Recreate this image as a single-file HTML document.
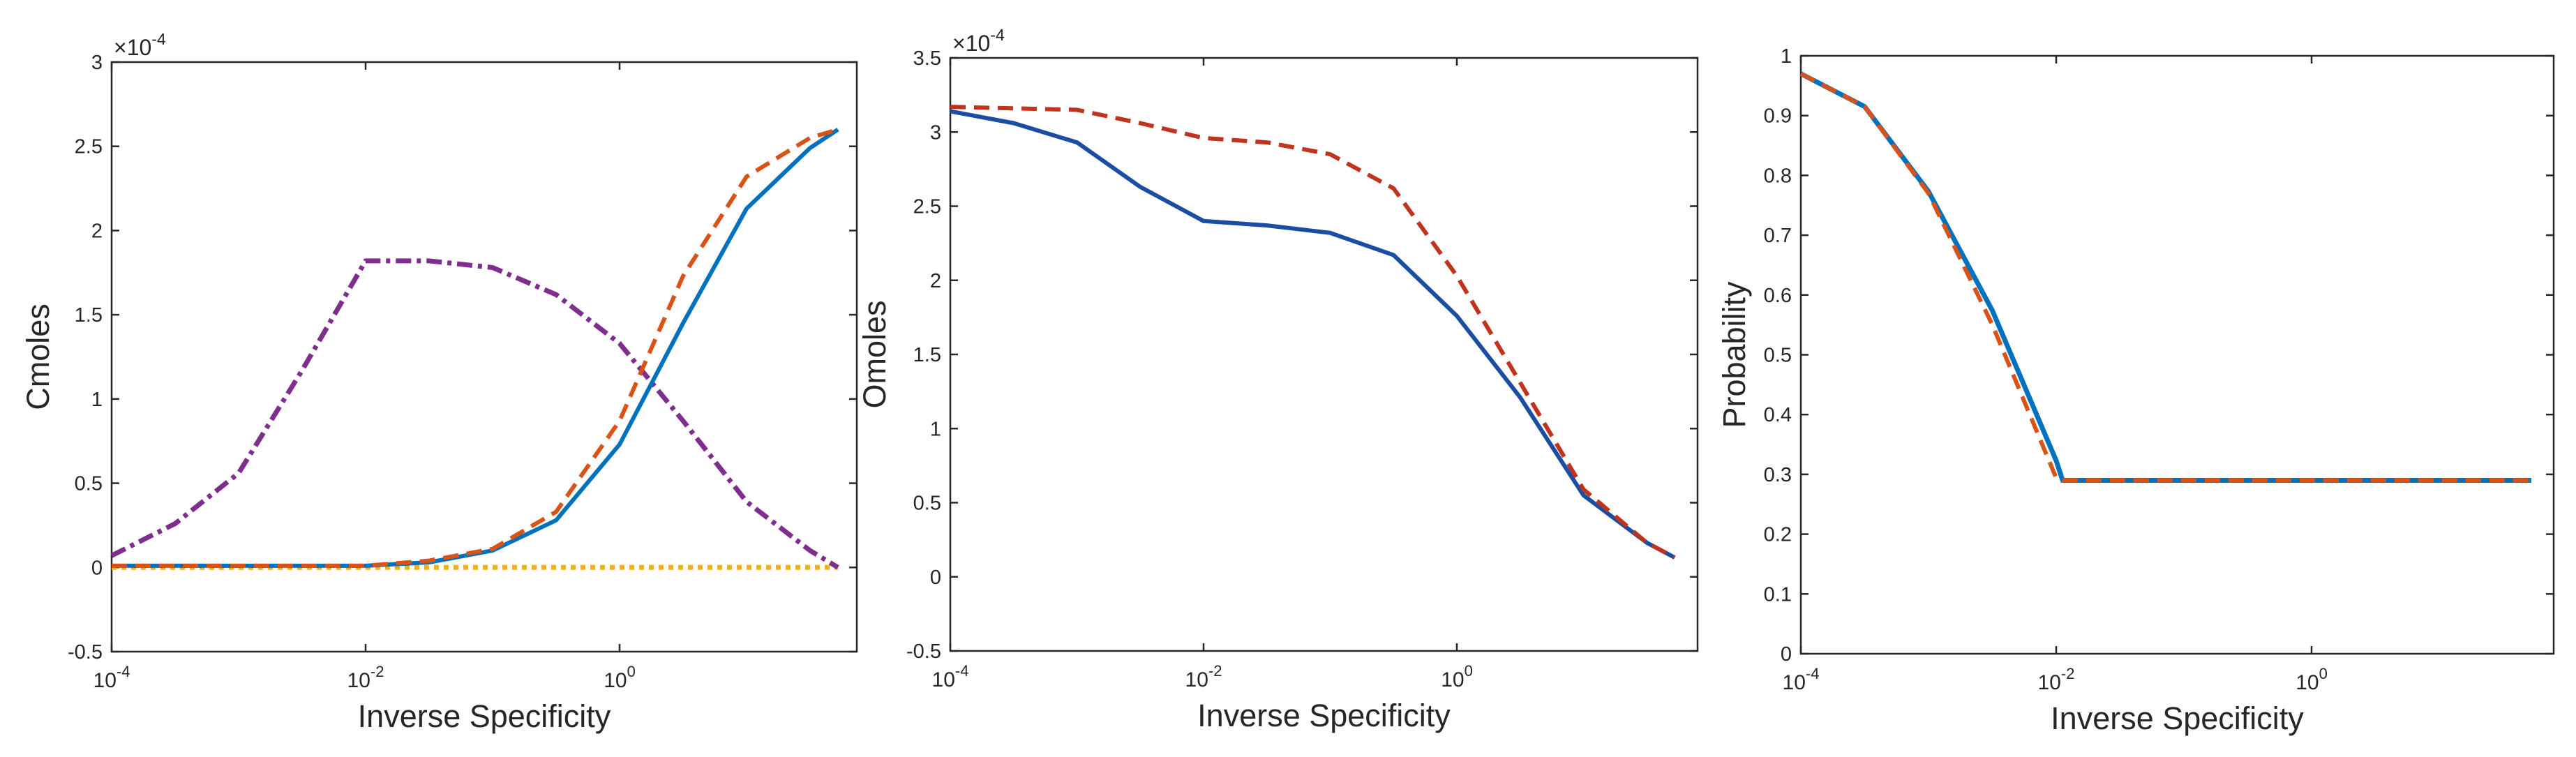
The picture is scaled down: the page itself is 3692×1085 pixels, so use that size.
<!DOCTYPE html>
<html><head><meta charset="utf-8"><style>
html,body{margin:0;padding:0;background:#fff;overflow:hidden;}
svg{display:block;font-family:"Liberation Sans",Arial,sans-serif;}
</style></head><body>
<svg id="fig" width="3692" height="1085" viewBox="0 0 3692 1085" xmlns="http://www.w3.org/2000/svg"></svg>
<script>
// Shared x grid (log10 of inverse specificity)
const logX = [-4,-3.5,-3,-2.5,-2,-1.5,-1,-0.5,0,0.5,1,1.5,1.72];
// Panel 1 (Cmoles, x1e-4)
const p1Purple = [0.07,0.26,0.56,1.17,1.82,1.82,1.78,1.62,1.33,0.87,0.39,0.10,0.0];
const p1Blue   = [0.01,0.01,0.01,0.01,0.01,0.03,0.10,0.28,0.73,1.45,2.13,2.49,2.6];
const p1Orange = [0.01,0.01,0.01,0.01,0.01,0.04,0.11,0.33,0.87,1.73,2.32,2.55,2.6];
const p1Yellow = [0,0,0,0,0,0,0,0,0,0,0,0,0];
// Panel 2 (Omoles, x1e-4)
const p2Blue = [3.14,3.06,2.93,2.63,2.40,2.37,2.32,2.17,1.76,1.21,0.55,0.23,0.13];
const p2Red  = [3.17,3.16,3.15,3.06,2.96,2.93,2.85,2.62,2.03,1.31,0.59,0.23,0.13];
// Panel 3 (Probability)
const p3X = [-4,-3.5,-3,-2.5,-2,-1.95,-1.5,-1,0,1,1.72];
const p3Blue   = [0.97,0.915,0.773,0.574,0.323,0.29,0.29,0.29,0.29,0.29,0.29];
const p3Orange = [0.97,0.915,0.77,0.55,0.294,0.29,0.29,0.29,0.29,0.29,0.29];
const yTicks1 = [-0.5,0,0.5,1,1.5,2,2.5,3];
const yTicks2 = [-0.5,0,0.5,1,1.5,2,2.5,3,3.5];
const yTicks3 = [0,0.1,0.2,0.3,0.4,0.5,0.6,0.7,0.8,0.9,1];
const xTicks = [-4,-2,0];

const NS="http://www.w3.org/2000/svg";
const svg=document.getElementById('fig');
function mk(tag,attrs,parent){const e=document.createElementNS(NS,tag);for(const k in attrs)e.setAttribute(k,attrs[k]);(parent||svg).appendChild(e);return e;}

function panel(id,L,R,T,B,xmin,xmax,ymin,ymax,yT,ylabel,exp,yOff){
  const g=mk('g',{});
  
  
  const sx=v=>L+(v-xmin)/(xmax-xmin)*(R-L);
  const sy=v=>B-(v-ymin)/(ymax-ymin)*(B-T);
  const fr=mk('rect',{x:L,y:T,width:R-L,height:B-T,fill:'none',stroke:'#262626','stroke-width':2.5},g);
  
  
  yT.forEach(v=>{
    const y=sy(v);
    mk('line',{x1:L,x2:L+11,y1:y,y2:y,stroke:'#262626','stroke-width':2.5},g);
    mk('line',{x1:R,x2:R-11,y1:y,y2:y,stroke:'#262626','stroke-width':2.5},g);
    const t=mk('text',{x:L-13,y:y+10,'text-anchor':'end','font-size':29,fill:'#262626'},g);
    t.textContent=String(v);
    
    
  });
  xTicks.forEach(v=>{
    const x=sx(v);
    mk('line',{x1:x,x2:x,y1:B,y2:B-11,stroke:'#262626','stroke-width':2.5},g);
    mk('line',{x1:x,x2:x,y1:T,y2:T+11,stroke:'#262626','stroke-width':2.5},g);
    const t=mk('text',{x:x,y:B+51,'text-anchor':'middle','font-size':30,fill:'#262626'},g);
    t.innerHTML='10<tspan dy="-15" font-size="22">'+v+'</tspan>';
    
    
  });
  const xl=mk('text',{x:(L+R)/2,y:B+108,'text-anchor':'middle','font-size':45,fill:'#262626'},g);
  xl.textContent='Inverse Specificity';
  
  
  const yl=mk('text',{x:0,y:0,'text-anchor':'middle','font-size':45,fill:'#262626',transform:`translate(${L-yOff},${(T+B)/2}) rotate(-90)`},g);
  yl.textContent=ylabel;
  
  
  if(exp){
    const e=mk('text',{x:L+3,y:T-10,'font-size':32,fill:'#262626'},g);
    e.innerHTML='×10<tspan dy="-15" font-size="23">-4</tspan>';
    
    
  }
  return {g,sx,sy};
}
function series(p,xs,ys,color,dash,w,name){
  const d=xs.map((x,i)=>(i?'L':'M')+p.sx(x).toFixed(1)+','+p.sy(ys[i]).toFixed(1)).join(' ');
  const a={d:d,fill:'none',stroke:color,'stroke-width':w,'stroke-linejoin':'round'};
  if(dash)a['stroke-dasharray']=dash;
  const e=mk('path',a,p.g);
  
  
}
const P1=panel('cmoles-panel',160,1228,89,934,-4,-4+(1228-160)/182,-0.5,3,yTicks1,'Cmoles',true,90);
series(P1,logX,p1Yellow,'#EDB120','7 7',7,'yellow-dotted-line');
series(P1,logX,p1Purple,'#7E2F8E','22 8 6 8',7,'purple-dashdot-line');
series(P1,logX,p1Blue,'#0072BD',null,6,'blue-solid-line');
series(P1,logX,p1Orange,'#D95319','22 12',6,'orange-dashed-line');
const P2=panel('omoles-panel',1362,2433,83,933,-4,-4+(2433-1362)/181.5,-0.5,3.5,yTicks2,'Omoles',true,93);
series(P2,logX,p2Blue,'#1B4EA3',null,6,'blue-solid-line');
series(P2,logX,p2Red,'#C0341D','22 12',6,'red-dashed-line');
const P3=panel('probability-panel',2581,3660,80,937,-4,-4+(3660-2581)/183,0,1,yTicks3,'Probability',false,80);
series(P3,p3X,p3Blue,'#0072BD',null,7,'blue-solid-line');
series(P3,p3X,p3Orange,'#D95319','22 12',6,'orange-dashed-line');
</script>
</body></html>
